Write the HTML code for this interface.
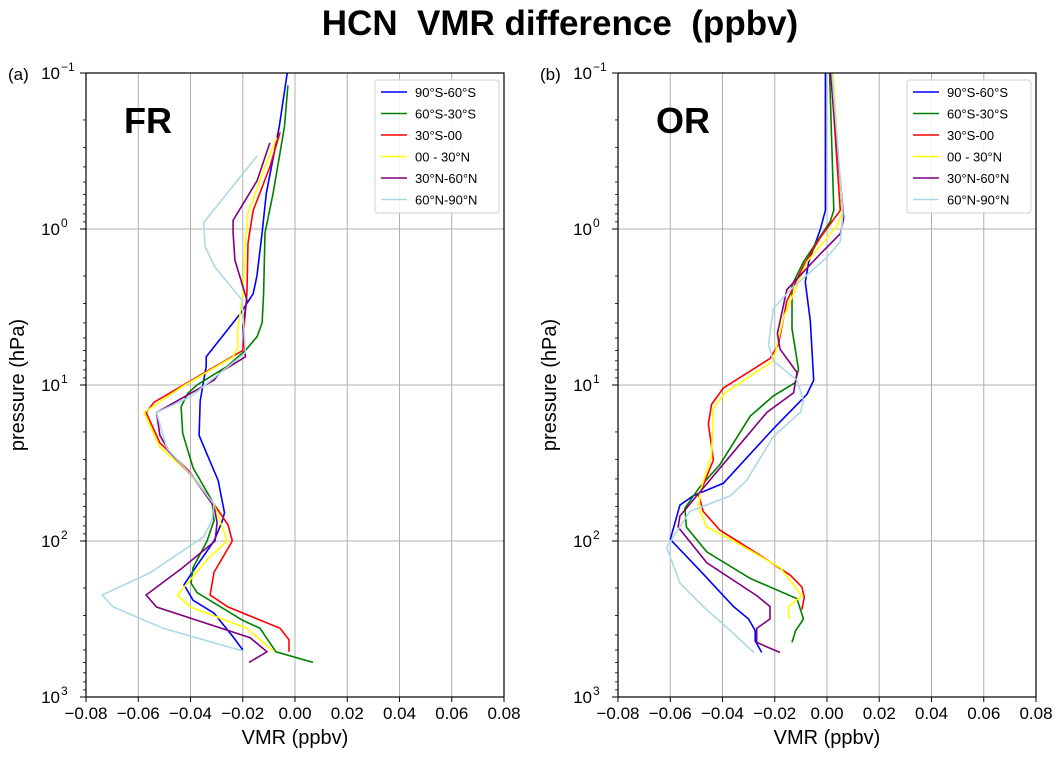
<!DOCTYPE html>
<html><head><meta charset="utf-8"><style>
body{margin:0;background:#fff;}
svg{display:block;font-family:"Liberation Sans","DejaVu Sans",sans-serif;}
</style></head><body>
<svg id="chart" width="1064" height="758" viewBox="0 0 1064 758" xmlns="http://www.w3.org/2000/svg">
<text x="560" y="35" text-anchor="middle" font-size="35" font-weight="bold" xml:space="preserve">HCN  VMR difference  (ppbv)</text>
</svg>
<script>
const seriesNames=["90°S-60°S","60°S-30°S","30°S-00","00 - 30°N","30°N-60°N","60°N-90°N"];
const seriesColors=["#0000ff","#008000","#ff0000","#ffff00","#800080","#add8e6"];
const xTicks=[-0.08,-0.06,-0.04,-0.02,0.00,0.02,0.04,0.06,0.08];
const yDecades=[-1,0,1,2,3];
// FR panel: x (ppbv) and pressure (hPa)
const frX=[
[-0.003,-0.006,-0.011,-0.0126,-0.0146,-0.016,-0.021,-0.034,-0.034,-0.0363,-0.0367,-0.034,-0.0294,-0.027,-0.028,-0.031,-0.039,-0.0425,-0.039,-0.031,-0.0237,-0.02],
[-0.0027,-0.004,-0.0084,-0.0115,-0.012,-0.0126,-0.0145,-0.019,-0.026,-0.0375,-0.041,-0.0436,-0.043,-0.039,-0.0318,-0.031,-0.0337,-0.039,-0.0398,-0.0375,-0.02,-0.0134,-0.0073,0.0069],
[-0.0057,-0.0096,-0.016,-0.018,-0.0184,-0.0195,-0.02,-0.036,-0.054,-0.057,-0.0517,-0.041,-0.031,-0.0256,-0.024,-0.031,-0.0325,-0.0256,-0.0057,-0.0023,-0.0023],
[-0.007,-0.012,-0.018,-0.019,-0.02,-0.022,-0.0218,-0.0237,-0.043,-0.0578,-0.0517,-0.041,-0.031,-0.026,-0.0337,-0.045,-0.040,-0.0184,-0.0084],
[-0.0096,-0.0145,-0.0237,-0.0237,-0.023,-0.0184,-0.02,-0.019,-0.0287,-0.031,-0.053,-0.0517,-0.048,-0.039,-0.031,-0.0298,-0.0306,-0.043,-0.057,-0.053,-0.0172,-0.0107,-0.0176],
[-0.0145,-0.035,-0.0344,-0.0306,-0.0203,-0.019,-0.040,-0.053,-0.049,-0.039,-0.031,-0.0318,-0.035,-0.0555,-0.0738,-0.0696,-0.0505,-0.02]
];
const frP=[
[0.1,0.22,0.59,1.06,2.0,2.6,3.5,6.6,7.6,12.6,21,27,41,66,76,100,156,191,240,290,412,500],
[0.12,0.22,0.59,1.06,2.6,4.0,4.9,6.0,7.6,10,11.3,13.8,20.4,34,55,74,100,148,186,214,323,363,513,600],
[0.24,0.40,0.76,1.23,2.6,4.2,6.0,8.6,12.9,15,23.5,35,58,79,100,159,222,265,363,430,513],
[0.26,0.42,0.79,1.23,2.6,4.6,5.7,6.6,10.2,15,25,36,58,100,132,222,265,363,507],
[0.28,0.49,0.88,1.06,1.58,2.85,4.2,6.6,8.3,9.3,15,21,27,39,60,76,100,148,222,265,417,513,600],
[0.34,0.91,1.30,1.76,2.85,6.2,11.9,15,25.5,39,58,74,94,160,222,265,363,507]
];
// OR panel: x (ppbv) and log10 pressure (hPa)
const orX=[
[-0.0006,-0.0006,-0.0026,-0.007,-0.0083,-0.0064,-0.0051,-0.0077,-0.0205,-0.0397,-0.0512,-0.0563,-0.060,-0.0486,-0.0358,-0.030,-0.0275,-0.0275,-0.025],
[0.001,0.0026,0.0013,-0.009,-0.0134,-0.0134,-0.0109,-0.0122,-0.0205,-0.0294,-0.041,-0.049,-0.0544,-0.0538,-0.046,-0.0294,-0.0115,-0.009,-0.012,-0.0134],
[0.0015,0.0051,-0.0026,-0.009,-0.0154,-0.0186,-0.0218,-0.0397,-0.0442,-0.0454,-0.0435,-0.049,-0.0474,-0.041,-0.023,-0.014,-0.0096,-0.0087,-0.0096],
[0.0023,0.0058,0.0038,-0.0077,-0.0166,-0.0205,-0.039,-0.0435,-0.0442,-0.0486,-0.049,-0.046,-0.0358,-0.018,-0.0096,-0.0147,-0.0147],
[0.0013,0.0064,0.0051,-0.0026,-0.0154,-0.019,-0.018,-0.0115,-0.0128,-0.023,-0.0333,-0.0486,-0.0563,-0.057,-0.046,-0.0269,-0.0218,-0.0218,-0.0269,-0.0269,-0.018],
[0.0019,0.0061,0.0051,0,-0.014,-0.0205,-0.0224,-0.0205,-0.0115,-0.009,-0.0102,-0.0205,-0.0307,-0.037,-0.0525,-0.0614,-0.0563,-0.0474,-0.037,-0.028]
];
const orLogP=[
[-1,-0.12,0.005,0.21,0.34,0.59,0.97,1.06,1.28,1.63,1.71,1.77,1.99,2.19,2.42,2.50,2.575,2.64,2.715],
[-1,-0.12,-0.05,0.21,0.36,0.64,0.90,0.985,1.07,1.20,1.51,1.66,1.79,1.91,2.07,2.24,2.37,2.50,2.575,2.65],
[-1,-0.12,0.056,0.234,0.463,0.74,0.83,1.02,1.125,1.25,1.48,1.71,1.81,1.93,2.12,2.22,2.295,2.36,2.44],
[-1,-0.1,-0.02,0.21,0.565,0.845,1.05,1.15,1.455,1.685,1.79,1.91,2.0,2.17,2.35,2.42,2.50],
[-1,-0.07,0.03,0.16,0.39,0.67,0.77,0.92,1.05,1.175,1.38,1.685,1.84,1.91,2.14,2.35,2.42,2.50,2.56,2.65,2.715],
[-1,-0.1,0.08,0.18,0.39,0.51,0.74,0.845,0.97,1.10,1.175,1.33,1.61,1.71,1.81,2.04,2.27,2.42,2.575,2.715]
];
const NS="http://www.w3.org/2000/svg";
const svg=document.getElementById('chart');
function mk(tag,attrs,parent){const e=document.createElementNS(NS,tag);for(const k in attrs)e.setAttribute(k,attrs[k]);(parent||svg).appendChild(e);return e;}
const T=73,B=697;
function yScale(logp){return T+(logp+1)/4*(B-T);}
function drawPanel(L,R,xs,ys,isLog,tag,letter,label){
  const xScale=v=>L+(v+0.08)/0.16*(R-L);
  const g=mk('g',{});
  
  
  xTicks.forEach(t=>{const x=xScale(t);
    const l=mk('line',{x1:x,x2:x,y1:T,y2:B,stroke:'#b0b0b0','stroke-width':1},g);
    
    mk('line',{x1:x,x2:x,y1:B,y2:B+5,stroke:'#000','stroke-width':1},g);
    const tx=mk('text',{x:x,y:B+22,'text-anchor':'middle','font-size':17},g);
    
    tx.textContent=(t<0?'\u2212':'')+Math.abs(t).toFixed(2);});
  yDecades.forEach(d=>{const y=yScale(d);
    const l=mk('line',{x1:L,x2:R,y1:y,y2:y,stroke:'#b0b0b0','stroke-width':1},g);
    
    mk('line',{x1:L-6,x2:L,y1:y,y2:y,stroke:'#000','stroke-width':1},g);
    const tx=mk('text',{x:L-26,y:y+6,'text-anchor':'end','font-size':17},g);
    
    tx.textContent='10';
    const s=mk('text',{x:L-25,y:y-2,'text-anchor':'start','font-size':12},g);
    s.textContent=d<0?'\u22121':String(d);
    if(d<3){for(let m=2;m<=9;m++){const yy=yScale(d+Math.log10(m));mk('line',{x1:L-3,x2:L,y1:yy,y2:yy,stroke:'#000','stroke-width':0.8},g);}}
  });
  xs.forEach((arr,i)=>{
    const pts=arr.map((v,j)=>xScale(v).toFixed(1)+','+yScale(isLog?ys[i][j]:Math.log10(ys[i][j])).toFixed(1)).join(' ');
    const pl=mk('polyline',{points:pts,fill:'none',stroke:seriesColors[i],'stroke-width':1.6},g);
    
    
  });
  const fr=mk('rect',{x:L,y:T,width:R-L,height:B-T,fill:'none',stroke:'#000','stroke-width':1.2},g);
  
  const lt=mk('text',{x:L-78,y:T+7,'font-size':17},g);
  
  lt.textContent=letter;
  const pl=mk('text',{x:L+38,y:T+60,'font-size':36,'font-weight':'bold'},g);
  
  pl.textContent=label;
  const xl=mk('text',{x:(L+R)/2,y:B+47,'text-anchor':'middle','font-size':20},g);
  
  xl.textContent='VMR (ppbv)';
  const yl=mk('text',{x:0,y:0,'text-anchor':'middle','font-size':20,transform:'translate('+(L-62)+','+((T+B)/2)+') rotate(-90)'},g);
  
  yl.textContent='pressure (hPa)';
  const lg=mk('g',{},g);
  
  const lx=R-129;
  mk('rect',{x:lx,y:T+7,width:124,height:133,rx:3,fill:'#fff','fill-opacity':0.85,stroke:'#d0d0d0'},lg);
  seriesNames.forEach((n,i)=>{const y=T+19+i*21.5;
    const e=mk('g',{},lg);
    
    mk('line',{x1:lx+6,x2:lx+32,y1:y,y2:y,stroke:seriesColors[i],'stroke-width':1.6},e);
    const t=mk('text',{x:lx+40,y:y+5,'font-size':13},e);t.textContent=n;});
}
drawPanel(86,504,frX,frP,false,'fr','(a)','FR');
drawPanel(618,1036,orX,orLogP,true,'or','(b)','OR');
</script>
</body></html>
